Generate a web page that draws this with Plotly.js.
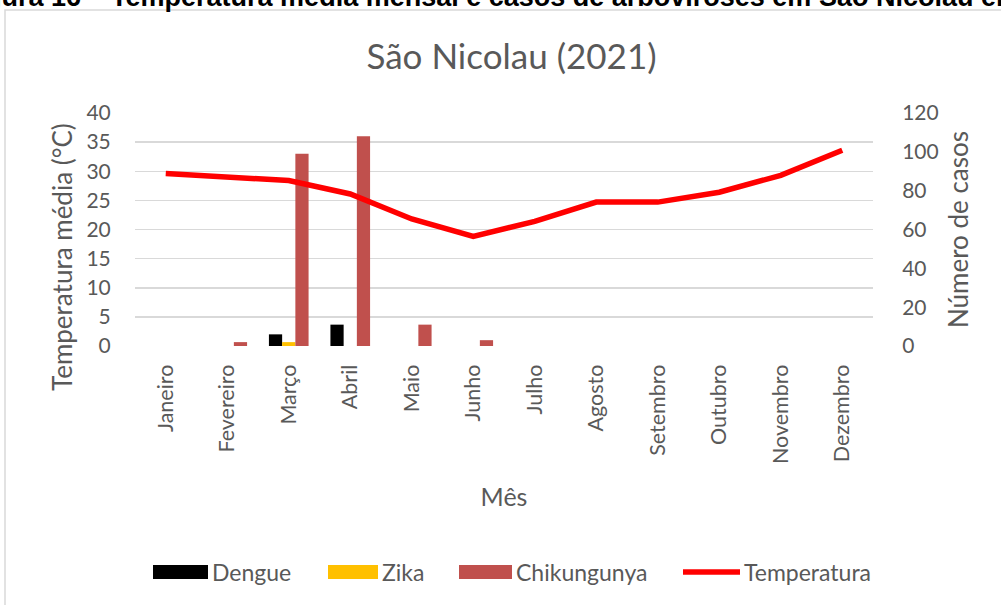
<!DOCTYPE html>
<html>
<head>
<meta charset="utf-8">
<script src="https://cdn.plot.ly/plotly-3.0.1.min.js"></script>
<style>html,body{margin:0;padding:0;background:#fff;}#chart{width:1001px;height:605px;}</style>
</head>
<body>
<div id="chart"></div>
<script>
// ---- data ----
var months = ["Janeiro","Fevereiro","Março","Abril","Maio","Junho","Julho","Agosto","Setembro","Outubro","Novembro","Dezembro"];
var dengue = [0,0,6,11,0,0,0,0,0,0,0,0];
var zika = [0,0,2,0,0,0,0,0,0,0,0,0];
var chikungunya = [0,2,99,108,11,3,0,0,0,0,0,0];
var temperatura = [29.6,29.0,28.4,26.1,21.8,18.8,21.4,24.7,24.7,26.4,29.3,33.6];
var seriesNames = ["Dengue","Zika","Chikungunya","Temperatura"];
var tempTicks = [0,5,10,15,20,25,30,35,40];
var caseTicks = [0,20,40,60,80,100,120];

// ---- geometry helpers (pixel -> paper) ----
var L = 135, R = 873, T = 113, B = 346;
var W = R - L, H = B - T;
function xp(px){ return (px - L) / W; }
function yp(py){ return (B - py) / H; }

var font = "Lato, 'Open Sans', sans-serif";
var grey = "#595959";
var colors = {Dengue:"#000000", Zika:"#FFC000", Chikungunya:"#C0504D", Temperatura:"#FF0000"};

var traces = [
  {type:"bar", x:months, y:dengue, name:seriesNames[0], yaxis:"y", marker:{color:colors.Dengue}, showlegend:false},
  {type:"bar", x:months, y:zika, name:seriesNames[1], yaxis:"y", marker:{color:colors.Zika}, showlegend:false},
  {type:"bar", x:months, y:chikungunya, name:seriesNames[2], yaxis:"y", marker:{color:colors.Chikungunya}, showlegend:false},
  {type:"scatter", mode:"lines", x:months, y:temperatura, name:seriesNames[3], yaxis:"y2",
   line:{color:colors.Temperatura, width:5.5, shape:"linear"}, showlegend:false}
];

// manual legend (wide swatches like the original)
var legendItems = [
  {name:seriesNames[0], x0:153, x1:208, kind:"box"},
  {name:seriesNames[1], x0:328, x1:378, kind:"box"},
  {name:seriesNames[2], x0:459, x1:512, kind:"box"},
  {name:seriesNames[3], x0:683, x1:740, kind:"line"}
];
var shapes = [
  {type:"rect", xref:"paper", yref:"paper", x0:xp(5), x1:xp(1030), y0:yp(640), y1:yp(10),
   line:{color:"#d9d9d9", width:1.5}, fillcolor:"rgba(0,0,0,0)", layer:"below"}
];
var annotations = [
  {xref:"paper", yref:"paper", x:xp(-41), y:yp(-3), xanchor:"left", yanchor:"middle", showarrow:false,
   text:"<b>Figura 16 – Temperatura média mensal e casos de arboviroses em São Nicolau em 2021</b>",
   font:{family:"'Liberation Sans', Arial, sans-serif", size:27, color:"#000000"}},
  {xref:"paper", yref:"paper", x:xp(62), y:yp(257), xanchor:"center", yanchor:"middle", showarrow:false,
   textangle:-90, text:"Temperatura média (°C)", font:{family:font, size:26, color:grey}}
];
legendItems.forEach(function(it){
  var c = colors[it.name];
  if (it.kind === "box") {
    shapes.push({type:"rect", xref:"paper", yref:"paper", x0:xp(it.x0), x1:xp(it.x1), y0:yp(579), y1:yp(565),
      fillcolor:c, line:{width:0}});
  } else {
    shapes.push({type:"line", xref:"paper", yref:"paper", x0:xp(it.x0), x1:xp(it.x1), y0:yp(572), y1:yp(572),
      line:{color:c, width:5.5}});
  }
  annotations.push({xref:"paper", yref:"paper", x:xp(it.x1 + 2), y:yp(572), xanchor:"left", yanchor:"middle",
    showarrow:false, text:it.name, font:{family:font, size:23, color:grey}});
});

var layout = {
  width:1001, height:605,
  margin:{l:L, r:1001-R, t:T, b:605-B, pad:0},
  paper_bgcolor:"#ffffff", plot_bgcolor:"#ffffff",
  font:{family:font, color:grey, size:21},
  title:{text:"São Nicolau (2021)", x:0.511, xref:"container", xanchor:"center", y:1-57/605, yref:"container", yanchor:"middle",
         font:{family:font, size:35, color:grey}},
  barmode:"group", bargap:0.355, bargroupgap:0,
  showlegend:false,
  xaxis:{type:"category", tickangle:-90, showgrid:false, showline:false, zeroline:false, ticks:"outside", ticklen:9, tickcolor:"rgba(0,0,0,0)",
         tickfont:{family:font, size:21.5, color:grey},
         title:{text:"Mês", font:{family:font, size:25, color:grey}, standoff:25}},
  yaxis:{side:"right", range:[0,120], tickvals:caseTicks, showgrid:false, zeroline:false, showline:false,
         ticks:"outside", ticklen:24, tickcolor:"rgba(0,0,0,0)",
         tickfont:{family:font, size:21, color:grey},
         title:{text:"Número de casos", font:{family:font, size:26, color:grey}, standoff:12}},
  yaxis2:{side:"left", overlaying:"y", range:[0,40], tickvals:tempTicks, showgrid:true, gridcolor:"#d9d9d9", gridwidth:1.5,
          zeroline:false, showline:false, ticks:"outside", ticklen:19, tickcolor:"rgba(0,0,0,0)",
          tickfont:{family:font, size:21, color:grey}},
  shapes:shapes,
  annotations:annotations
};

Plotly.newPlot("chart", traces, layout, {staticPlot:true, displayModeBar:false});
</script>
</body>
</html>
